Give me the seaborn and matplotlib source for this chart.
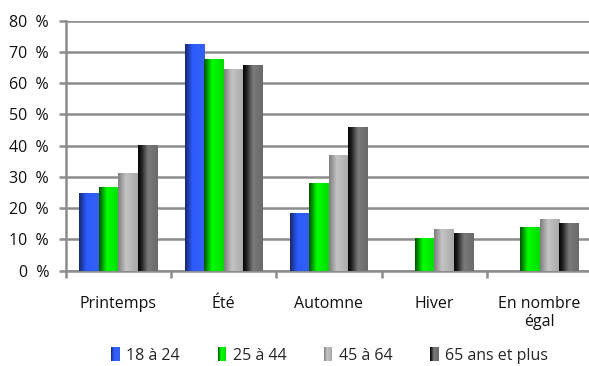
import numpy as np
import pandas as pd
import matplotlib
matplotlib.use("Agg")
import matplotlib.pyplot as plt
from matplotlib.colors import LinearSegmentedColormap
from matplotlib.patches import Rectangle
from matplotlib.legend_handler import HandlerBase
import seaborn as sns

categories = ["Printemps", "Été", "Automne", "Hiver", "En nombre\négal"]
groups = ["18 à 24", "25 à 44", "45 à 64", "65 ans et plus"]
v_18_24 = [25.0, 72.5, 18.5, 0.0, 0.0]
v_25_44 = [26.8, 67.6, 28.1, 10.5, 14.0]
v_45_64 = [31.3, 64.5, 37.0, 13.4, 16.6]
v_65_plus = [40.1, 65.8, 46.0, 12.1, 15.3]
y_ticks = [0, 10, 20, 30, 40, 50, 60, 70, 80]

series = [v_18_24, v_25_44, v_45_64, v_65_plus]
df = pd.DataFrame({
    "categorie": np.tile(categories, len(groups)),
    "groupe": np.repeat(groups, len(categories)),
    "valeur": np.concatenate(series),
})

# Shading stops (left edge -> highlight -> right edge) for each age group
stops = {
    "18 à 24": [(0.0, "#17286e"), (0.38, "#2c5cff"), (1.0, "#3560f0")],
    "25 à 44": [(0.0, "#005200"), (0.4, "#00ff00"), (1.0, "#00dd00")],
    "45 à 64": [(0.0, "#7e7e7e"), (0.4, "#c4c4c4"), (1.0, "#a8a8a8")],
    "65 ans et plus": [(0.0, "#050505"), (0.15, "#1a1a1a"), (0.5, "#7a7a7a"), (1.0, "#6a6a6a")],
}
cmaps = {g: LinearSegmentedColormap.from_list(g, s) for g, s in stops.items()}
flat = {"18 à 24": "#2a55e8", "25 à 44": "#00e000", "45 à 64": "#b4b4b4",
        "65 ans et plus": "#555555"}

sns.set_theme(style="white")
plt.rcParams["font.family"] = ["Open Sans", "DejaVu Sans"]
FS = 11.5
TXT = "#111111"

fig = plt.figure(figsize=(5.89, 3.66), dpi=100)
ax = fig.add_axes([65.7 / 589, 1 - 270.7 / 366, 526.5 / 589, 250.0 / 366])

sns.barplot(data=df, x="categorie", y="valeur", hue="groupe", order=categories,
            hue_order=groups, palette=flat, width=0.74, gap=0, saturation=1,
            linewidth=0, legend=False, ax=ax, zorder=3)

ax.set_xlim(-0.5, len(categories) - 0.5)
ax.set_ylim(0, 80)

# gradient fill clipped to each bar
grad = np.linspace(0, 1, 64).reshape(1, -1)
bars = [p for p in ax.patches if isinstance(p, Rectangle)]
for i, p in enumerate(bars):
    g = groups[i // len(categories)]
    x, w, h = p.get_x(), p.get_width(), p.get_height()
    if not h or np.isnan(h) or h <= 0:
        continue
    im = ax.imshow(grad, cmap=cmaps[g], extent=[x, x + w, 0, h], aspect="auto",
                   interpolation="bicubic", zorder=4)
    im.set_clip_path(p)
ax.set_xlim(-0.5, len(categories) - 0.5)
ax.set_ylim(0, 80)

grid_c = "#8c8c8c"
ax.set_yticks(y_ticks)
ax.set_yticklabels([f"{t}  %" for t in y_ticks])
ax.yaxis.grid(True, color=grid_c, linewidth=1.8, zorder=1)
ax.set_axisbelow(True)
for s in ["top", "right"]:
    ax.spines[s].set_visible(False)
ax.spines["left"].set_color(grid_c)
ax.spines["left"].set_linewidth(1.8)
ax.spines["bottom"].set_color(grid_c)
ax.spines["bottom"].set_linewidth(1.8)
ax.tick_params(axis="y", left=True, length=5, width=1.8, color=grid_c,
               labelsize=FS, labelcolor=TXT, pad=7)

# category labels at centers, tick marks at category boundaries
ax.set_xticks(np.arange(len(categories)))
ax.set_xticklabels(categories, fontsize=FS, color=TXT, linespacing=1.15)
ax.tick_params(axis="x", bottom=False, pad=12)
ax.set_xticks(np.arange(len(categories) + 1) - 0.5, minor=True)
ax.tick_params(axis="x", which="minor", bottom=True, length=5, width=1.8, color=grid_c)
ax.set_xlabel("")
ax.set_ylabel("")


class GradientHandler(HandlerBase):
    def create_artists(self, legend, orig_handle, xdescent, ydescent, width,
                       height, fontsize, trans):
        cm = cmaps[orig_handle.get_label()]
        n = 8
        arts = []
        for k in range(n):
            r = Rectangle((-xdescent + width * k / n, -ydescent - 1), width / n + 0.3,
                          height + 2, facecolor=cm((k + 0.5) / n), linewidth=0,
                          transform=trans)
            arts.append(r)
        return arts


handles = [Rectangle((0, 0), 1, 1, label=g) for g in groups]
fig.legend(handles=handles, labels=groups, loc="center", ncol=4,
           bbox_to_anchor=(0.56, 0.028), frameon=False, fontsize=FS,
           handlelength=0.5, handleheight=0.7, handletextpad=0.45,
           columnspacing=2.35, handler_map={Rectangle: GradientHandler()})

fig.savefig("out.png", dpi=100)
